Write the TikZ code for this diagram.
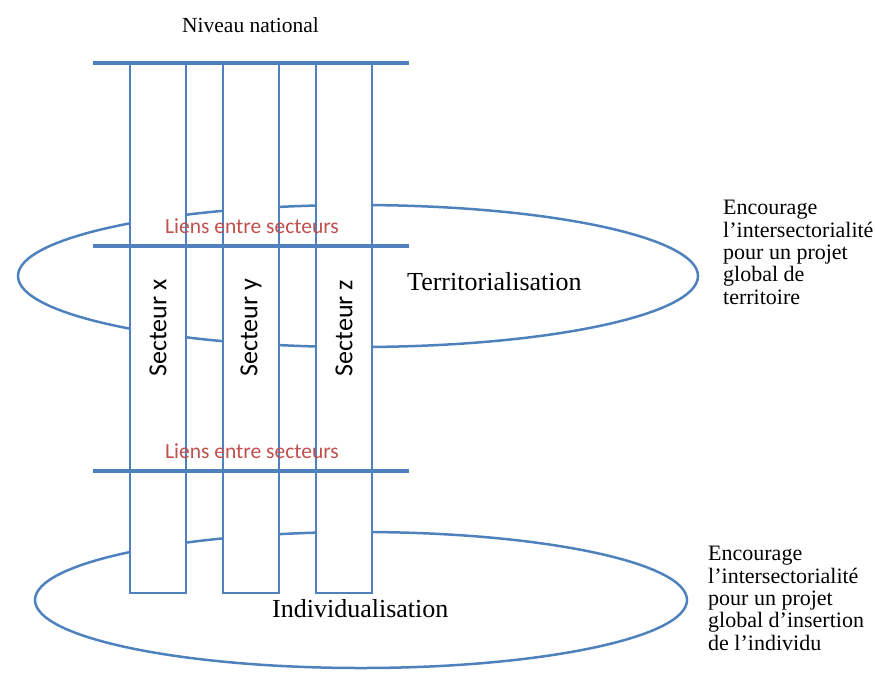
\documentclass[tikz,border=0pt]{standalone}
\usepackage{fontspec}
\setmainfont{Liberation Serif}
\newfontfamily\sectorfont{Carlito}
\usepackage{tikz}
\usetikzlibrary{shapes.geometric}
\definecolor{lineblue}{RGB}{79,129,189}
\definecolor{linkred}{RGB}{192,80,77}
\tikzstyle{level} = [ellipse, draw=lineblue, line width=2.5pt, inner sep=0pt]
\tikzstyle{sector} = [rectangle, draw=lineblue, fill=white, line width=1.5pt, inner sep=0pt, minimum width=530pt, minimum height=56pt, rotate=90, font=\sectorfont\fontsize{26}{26}\selectfont]
\tikzstyle{link} = [draw=lineblue, line width=3.5pt]
\tikzstyle{linklabel} = [anchor=base, inner sep=0pt, text=linkred, font=\sectorfont\fontsize{21.5}{21.5}\selectfont]
\tikzstyle{title} = [anchor=base west, inner sep=0pt]
\tikzstyle{note} = [anchor=base west, inner sep=0pt, align=left, font=\fontsize{22}{22.3}\selectfont]

\begin{document}
\begin{tikzpicture}[x=1pt, y=-1pt]
\useasboundingbox (0,0) rectangle (875,673);

% Ellipses
\node (terr) [level, minimum width=680pt, minimum height=142pt] at (358,276) {};
\node (indiv) [level, minimum width=652pt, minimum height=136pt] at (361,600) {};

% Sectors
\node (secx) [sector] at (158,328) {Secteur x};
\node (secy) [sector] at (251,328) {Secteur y};
\node (secz) [sector] at (344,328) {Secteur z};

% Lines
\draw [link] (93,63) -- (409,63);
\draw [link] (93,246) -- (409,246);
\draw [link] (93,471) -- (409,471);

% Labels
\node (national) [title, font=\fontsize{21.5}{21.5}\selectfont] at (182,32) {Niveau national};
\node (liens1) [linklabel] at (252,233) {Liens entre secteurs};
\node (liens2) [linklabel] at (252,458) {Liens entre secteurs};
\node (terrlabel) [title, font=\fontsize{26}{26}\selectfont] at (407,290) {Territorialisation};
\node (indivlabel) [title, font=\fontsize{26}{26}\selectfont] at (272,617) {Individualisation};

% Notes (placed by the baseline of their last line)
\node (terrnote) [note] at (723,304) {Encourage\\l'intersectorialité\\pour un projet\\global de\\territoire};
\node (indivnote) [note] at (708,650) {Encourage\\l'intersectorialité\\pour un projet\\global d'insertion\\de l'individu};

\end{tikzpicture}
\end{document}
